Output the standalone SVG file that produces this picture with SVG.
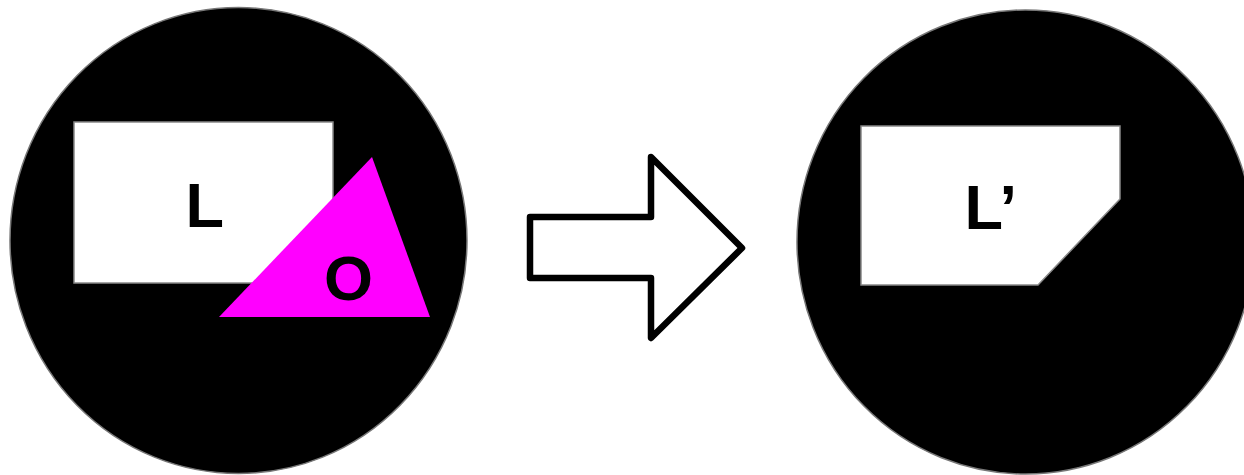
<svg xmlns="http://www.w3.org/2000/svg" width="1244" height="475" viewBox="0 0 1244 475">
  <style>
    .disc { fill: #000000; stroke: #777777; stroke-width: 1.5; }
    .region { fill: #ffffff; stroke: #888888; stroke-width: 1.5; }
    .obst { fill: #ff00ff; stroke: none; }
    .lbl { font-family: "Liberation Sans", Arial, sans-serif; font-weight: bold; font-size: 63px; fill: #000000; }
    .bigarrow { fill: #ffffff; stroke: #000000; stroke-width: 6.5; stroke-linejoin: round; }
  </style>
  <rect width="1244" height="475" fill="#ffffff"/>
  <g id="left-scene">
    <ellipse class="disc" cx="238.5" cy="240.5" rx="228.5" ry="233"/>
    <g id="node-L">
      <rect class="region" x="74" y="122" width="259" height="161"/>
      <text class="lbl" x="185.5" y="227">L</text>
    </g>
    <g id="node-O">
      <polygon class="obst" points="372,157 219,317 430,317"/>
      <text class="lbl" x="324" y="300">O</text>
    </g>
  </g>
  <g id="connectors">
    <polygon class="bigarrow" points="530,217 651,217 651,157 742,248 651,338 651,278 530,278"/>
  </g>
  <g id="right-scene">
    <ellipse class="disc" cx="1025.5" cy="242" rx="228.5" ry="232"/>
    <g id="node-Lprime">
      <polygon class="region" points="861,126 1120,126 1120,199 1038,285 861,285"/>
      <text class="lbl" x="964.5" y="229">L’</text>
    </g>
  </g>
</svg>
